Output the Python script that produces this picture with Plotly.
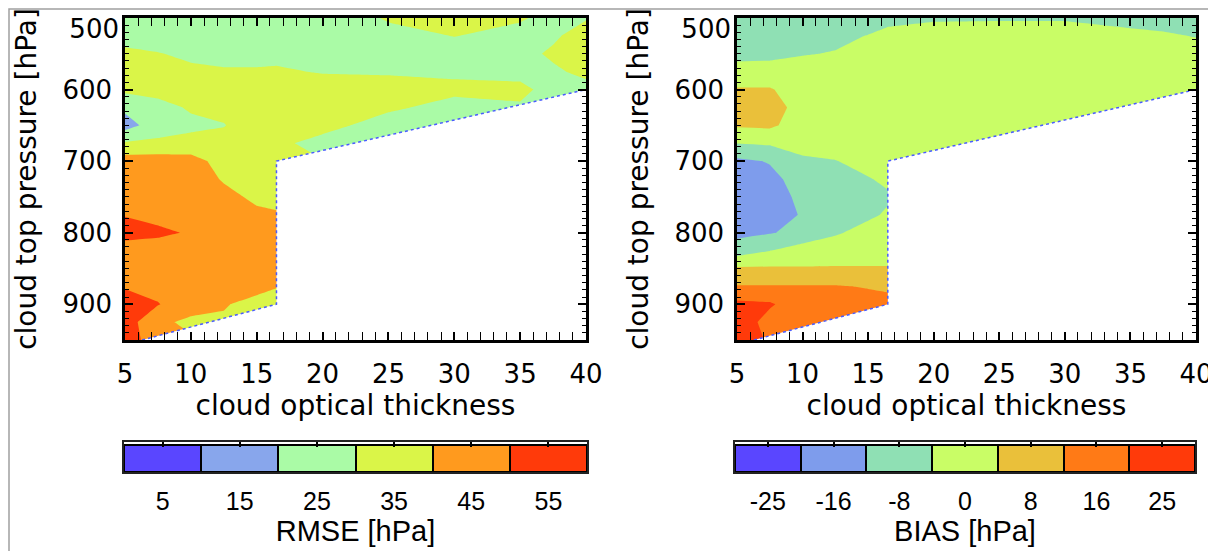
import plotly.graph_objects as go

N = None
# ---------------- data ----------------
tau = [5, 7.5, 10, 12.5, 15, 16.5, 20, 25, 30, 35, 37.5, 40]           # cloud optical thickness
pressure = [500, 525, 550, 575, 600, 625, 650, 675, 700, 725, 750,
            775, 800, 825, 850, 875, 900, 925, 950]                    # cloud top pressure [hPa]

# RMSE [hPa]; rows = pressure, columns = tau (None = no data)
rmse = [
    [22, 22, 22, 22, 23, 23, 23, 31, 33, 31, 27, 29],
    [24, 25, 25, 25, 25.5, 26, 26, 27, 30.2, 27, 28, 36],
    [33.4, 30.5, 28, 27, 27, 28, 28, 26, 26, 26, 32, 37],
    [36, 36, 32, 31, 31, 31, 29.5, 29, 28.5, 27.5, 28, 33],
    [32, 33, 34, 35, 35, 35, 34, 34, 32, 32, 27, 26],
    [22, 27, 31, 33, 36, 36, 36, 31.5, 27, N, N, N],
    [16, 25, 28, 29.5, 36, 35, 33, 26, N, N, N, N],
    [31, 32, 33, 34, 34, 32, 27, N, N, N, N, N],
    [45, 45, 44, 36, 32, 30.5, N, N, N, N, N, N],
    [45, 45, 46, 39, 35, 34, N, N, N, N, N, N],
    [46, 46, 46, 43, 38, 37, N, N, N, N, N, N],
    [49.5, 47, 47, 46, 42, 41, N, N, N, N, N, N],
    [54, 52, 49, 47, 45, 44, N, N, N, N, N, N],
    [45, 45, 46, 46, 45, 44, N, N, N, N, N, N],
    [45, 45, 45, 45, 44, 43, N, N, N, N, N, N],
    [49, 47, 45, 44, 42, 40.5, N, N, N, N, N, N],
    [56, 50.5, 44, 40.5, 38, 36, N, N, N, N, N, N],
    [55, 42, 38, N, N, N, N, N, N, N, N, N],
    [54, N, N, N, N, N, N, N, N, N, N, N],
]

# BIAS [hPa]; rows = pressure, columns = tau
bias = [
    [-9, -8.5, -8, -7.5, -8, -6, -4.8, -4.6, -4.5, -6, -7, -8],
    [-8, -8, -7, -6, -3.7, -2, -1, -1, -1.5, -2.5, -3, -4.3],
    [-7, -6.5, -4.5, -3.5, -1, 0, 0.5, 0.5, 0.5, 0.5, 0.5, -1],
    [0, 0, 0, 0, 0, 0, 0.5, 0.5, 0.5, 0.5, 0.5, 0.5],
    [4.5, 4.5, 1, 0.5, 0.5, 0.5, 0.5, 0.5, 0.5, 0.5, 0.5, 0.5],
    [9, 8.5, 0, 0, 0.5, 0.5, 0.5, 0.5, 0.5, N, N, N],
    [5, 5.5, 0, 0, 0.5, 0.5, 0.5, 0.5, N, N, N, N],
    [-3.8, -3, 0.5, 0.5, 0.5, 0.5, 0.5, N, N, N, N, N],
    [-13.6, -11.5, -6, -4.3, -1, 0, N, N, N, N, N, N],
    [-16, -14, -9, -7, -4.5, -2.5, N, N, N, N, N, N],
    [-16, -14, -11, -9, -7, -5, N, N, N, N, N, N],
    [-16, -15, -11.5, -8, -5.5, -3, N, N, N, N, N, N],
    [-14, -12.5, -10, -5, -1, 0, N, N, N, N, N, N],
    [-8, -4.2, 0, 1, 1, 1, N, N, N, N, N, N],
    [5, 5, 4.5, 4.5, 4.5, 4.5, N, N, N, N, N, N],
    [12.5, 12.5, 12.5, 12.5, 11.5, 11, N, N, N, N, N, N],
    [22, 21, 15, 15, 15, 14, N, N, N, N, N, N],
    [25, 17, 15, N, N, N, N, N, N, N, N, N],
    [24, N, N, N, N, N, N, N, N, N, N, N],
]

# limit of the data domain (beyond it: no samples)
edge_tau = [6.3, 16.5, 16.5, 40]
edge_p = [950, 900, 700, 600]

p_ticks = [500, 600, 700, 800, 900]

rmse_levels = dict(start=10, end=50, size=10)
rmse_ticks = ["5", "15", "25", "35", "45", "55"]
rmse_colors = ["#5a46ff", "#88a6ec", "#aafba6", "#daf548", "#ff9a1e", "#ff3a0a"]

bias_levels = dict(start=-20, end=20, size=8)
bias_ticks = ["-25", "-16", "-8", "0", "8", "16", "25"]
bias_colors = ["#5a46ff", "#7e9cec", "#8fe0b4", "#c9fd66", "#eac03a", "#ff7a16", "#ff3a0a"]

# ---------------- figure ----------------
OFF = 8                      # page body margin of the html page
W, H = 1216 - OFF, 551 - OFF


def dx(a, b):
    return [(a - OFF) / W, (b - OFF) / W]


def dy(top, bottom):
    return [1 - (bottom - OFF) / H, 1 - (top - OFF) / H]


fig = go.Figure()


def add_panel(z, levels, colors, xa, ya):
    n = len(colors) - 1
    fig.add_trace(go.Contour(
        x=tau, y=pressure, z=z, autocontour=False,
        contours=dict(start=levels["start"], end=levels["end"], size=levels["size"],
                      coloring="fill", showlines=False),
        colorscale=[[i / n, c] for i, c in enumerate(colors)],
        line=dict(width=0, smoothing=0), showscale=False, connectgaps=True,
        hoverinfo="skip", xaxis=xa, yaxis=ya))
    fig.add_trace(go.Scatter(
        x=edge_tau + [max(tau)], y=edge_p + [max(pressure)], fill="toself",
        fillcolor="white", mode="lines", line=dict(width=0), hoverinfo="skip",
        showlegend=False, xaxis=xa, yaxis=ya))
    fig.add_trace(go.Scatter(
        x=edge_tau, y=edge_p, mode="lines",
        line=dict(color="#4a5cff", width=1.5, dash="dot"), hoverinfo="skip",
        showlegend=False, xaxis=xa, yaxis=ya))


def add_bar(ticks, colors, xa, ya):
    fig.add_trace(go.Bar(
        x=list(range(len(ticks))), y=[1] * len(ticks), width=1,
        marker=dict(color=colors, line=dict(color="black", width=2)),
        hoverinfo="skip", showlegend=False, xaxis=xa, yaxis=ya))


def add_empty(xa, ya):
    # invisible helper trace so that the companion axis is rendered
    fig.add_trace(go.Scatter(x=[None], y=[None], mode="markers", hoverinfo="skip",
                             showlegend=False, xaxis=xa, yaxis=ya))


add_panel(rmse, rmse_levels, rmse_colors, "x", "y")
add_panel(bias, bias_levels, bias_colors, "x2", "y2")
add_bar(rmse_ticks, rmse_colors, "x3", "y3")
add_bar(bias_ticks, bias_colors, "x4", "y4")
add_empty("x", "y7")
add_empty("x2", "y8")
add_empty("x5", "y3")
add_empty("x6", "y4")

PF = "DejaVu Sans"
CF = "Liberation Sans"
TF = dict(family=PF, size=26, color="black")

xcommon = dict(range=[5, 40], tick0=5, dtick=5, showline=True, linecolor="black",
               linewidth=2.5, mirror="allticks", ticks="inside", ticklen=8, tickwidth=1.5,
               tickcolor="black", showgrid=False, zeroline=False, automargin=False,
               ticklabeloverflow="allow",
               minor=dict(dtick=1, ticks="inside", ticklen=4, tickcolor="black", tickwidth=1),
               tickfont=TF, ticklabelstandoff=9,
               title=dict(text="cloud optical thickness", font=dict(family=PF, size=28, color="black"),
                          standoff=2))
# the top label (500) is drawn by a companion axis so that it hangs below its tick
ycommon = dict(range=[950, 500], tickvals=p_ticks,
               ticktext=[""] + [str(v) for v in p_ticks[1:]],
               showline=True, linecolor="black",
               linewidth=2.5, mirror="allticks", ticks="inside", ticklen=8, tickwidth=1.5,
               tickcolor="black", showgrid=False, zeroline=False, automargin=False,
               ticklabeloverflow="allow",
               minor=dict(tick0=500, dtick=10, ticks="inside", ticklen=4, tickcolor="black",
                          tickwidth=1),
               tickfont=TF, ticklabelstandoff=5,
               title=dict(text="cloud top pressure [hPa]", font=dict(family=PF, size=28, color="black"),
                          standoff=18))


def ytop(over, anchor, dom):
    return dict(domain=dom, overlaying=over, anchor=anchor, side="left", range=[950, 500],
                tickvals=p_ticks[:1], ticktext=[str(p_ticks[0])], ticks="", showline=False,
                showgrid=False, zeroline=False, automargin=False, ticklabeloverflow="allow",
                ticklabelposition="outside bottom", ticklabelshift=7, tickfont=TF,
                ticklabelstandoff=5)


def cb_x(ticks, title, dom):
    return dict(domain=dom, range=[-0.5, len(ticks) - 0.5], tickvals=list(range(len(ticks))),
                ticktext=ticks, ticks="", showline=True, linecolor="#222", linewidth=2,
                mirror=True, showgrid=False, zeroline=False, fixedrange=True, automargin=False,
                tickfont=dict(family=CF, size=25, color="black"), ticklabelstandoff=6,
                title=dict(text=title, font=dict(family=CF, size=29, color="black"), standoff=0))


def cb_top(ticks, dom, over, anchor):
    return dict(domain=dom, range=[-0.5, len(ticks) - 0.5], tickvals=list(range(len(ticks))),
                overlaying=over, anchor=anchor, side="top", ticks="inside", ticklen=5,
                tickwidth=1.5, tickcolor="black", showticklabels=False, showline=False,
                showgrid=False, zeroline=False, automargin=False)


cb_y = dict(range=[0, 1.12], showline=True, linecolor="#222", linewidth=2, mirror=True,
            showticklabels=False, ticks="", showgrid=False, zeroline=False, fixedrange=True,
            automargin=False)

fig.update_layout(
    template="none",
    width=W, height=H, margin=dict(l=0, r=0, t=0, b=0, autoexpand=False),
    paper_bgcolor="white", plot_bgcolor="white", showlegend=False, bargap=0,
    xaxis=dict(domain=dx(125, 586), anchor="y", **xcommon),
    yaxis=dict(domain=dy(18, 340), anchor="x", **ycommon),
    xaxis2=dict(domain=dx(737, 1196), anchor="y2", **xcommon),
    yaxis2=dict(domain=dy(18, 340), anchor="x2", **ycommon),
    yaxis7=ytop("y", "x", dy(18, 340)),
    yaxis8=ytop("y2", "x2", dy(18, 340)),
    xaxis3=dict(anchor="y3", **cb_x(rmse_ticks, "RMSE [hPa]", dx(124, 587))),
    yaxis3=dict(domain=dy(442, 472), anchor="x3", **cb_y),
    xaxis4=dict(anchor="y4", **cb_x(bias_ticks, "BIAS [hPa]", dx(735, 1195))),
    yaxis4=dict(domain=dy(442, 472), anchor="x4", **cb_y),
    xaxis5=cb_top(rmse_ticks, dx(124, 587), "x3", "y3"),
    xaxis6=cb_top(bias_ticks, dx(735, 1195), "x4", "y4"),
    shapes=[dict(type="rect", xref="paper", yref="paper", x0=1 / W, x1=(1210 - OFF) / W,
                 y0=-0.05, y1=1 - 1 / H, line=dict(color="#a0a0a0", width=1.5), layer="below")],
)

fig.write_html("out.html")
